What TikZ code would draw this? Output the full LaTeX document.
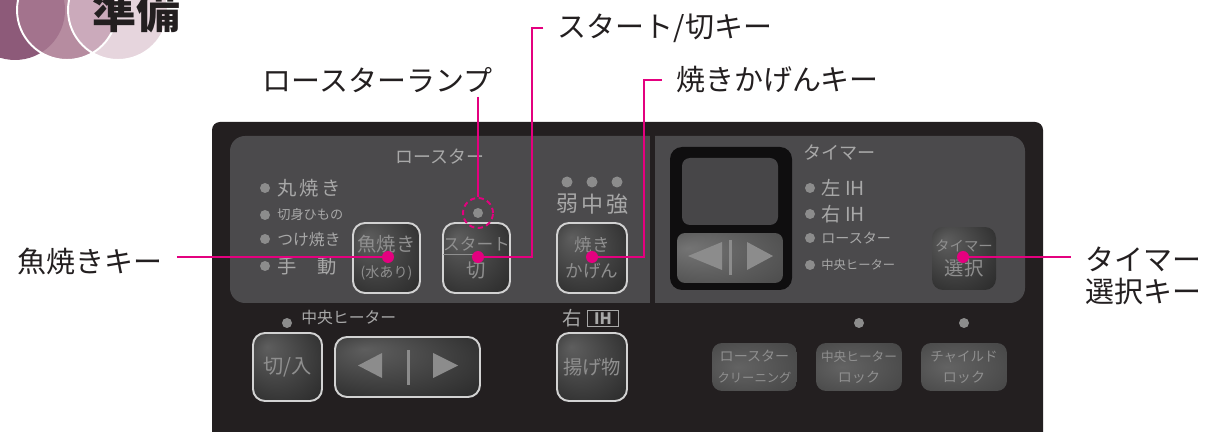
\documentclass[tikz,border=0pt]{standalone}
\usepackage{fontspec}
\setmainfont{Noto Sans CJK JP}
\usetikzlibrary{calc}
\definecolor{ink}{HTML}{231F20}
\definecolor{plum}{HTML}{8D5A79}
\definecolor{mauve}{HTML}{B68CA0}
\definecolor{blush}{HTML}{E6D5DD}
\definecolor{plummauve}{HTML}{A3738D}
\definecolor{mauveblush}{HTML}{CBAABB}
\definecolor{face}{HTML}{4B4A4C}
\definecolor{lcd}{HTML}{0F0E0F}
\definecolor{screen}{HTML}{474648}
\definecolor{panelgray}{HTML}{A8A8A8}
\definecolor{keytext}{HTML}{8F8F8F}
\definecolor{led}{HTML}{8C8C8C}
\definecolor{rim}{HTML}{D2D2D2}
\definecolor{keyhi}{HTML}{5E5E5E}
\definecolor{keylo}{HTML}{1C1C1C}
\definecolor{flathi}{HTML}{636363}
\definecolor{flatlo}{HTML}{3C3C3C}
\definecolor{padhi}{HTML}{747474}
\definecolor{padlo}{HTML}{3E3E3E}
\definecolor{hotpink}{HTML}{E4007F}
\pgfdeclareradialshading{keyshade}{\pgfpoint{-15bp}{15bp}}{color(0bp)=(keyhi); color(50bp)=(keylo)}
\pgfdeclareradialshading{flatshade}{\pgfpoint{-10bp}{0bp}}{color(0bp)=(flathi); color(50bp)=(flatlo)}
\pgfdeclareradialshading{padshade}{\pgfpoint{-20bp}{10bp}}{color(0bp)=(padhi); color(55bp)=(padlo)}
\newcommand{\fsz}[2]{\fontsize{#1}{#2}\selectfont}

\begin{document}
\begin{tikzpicture}[x=0.02cm,y=-0.02cm,
  knob/.style={draw=rim,line width=1.1pt,rounded corners=0.24cm,shading=keyshade,
    text=keytext,align=center,inner sep=0pt},
  flatknob/.style={rounded corners=0.2cm,shading=flatshade,text=keytext,
    align=center,inner sep=0pt},
  led/.style={circle,fill=led,inner sep=0pt,minimum size=0.2cm},
  hotdot/.style={circle,fill=hotpink,inner sep=0pt,minimum size=0.24cm},
  paneltext/.style={text=panelgray,inner sep=0pt},
  glyph/.style={fill=led},
  callout/.style={hotpink,line width=1.1pt},
  keyname/.style={text=ink,font=\fsz{16.5}{18},inner xsep=8pt,inner ysep=2pt}]
  \useasboundingbox (0,0) rectangle (1208,432);
  \clip (0,0) rectangle (1208,432);

  % heading
  \coordinate (left) at (15,10);
  \coordinate (mid) at (67,10);
  \coordinate (right) at (118,10);
  \fill[blush] (right) circle (1cm);
  \fill[plum] (left) circle (1cm);
  \fill[mauve] (mid) circle (1cm);
  \begin{scope}
    \clip (left) circle (1cm);
    \fill[plummauve] (mid) circle (1cm);
  \end{scope}
  \begin{scope}
    \clip (right) circle (1cm);
    \fill[mauveblush] (mid) circle (1cm);
  \end{scope}
  \draw[white,line width=1.1pt] (mid) circle (1cm) (right) circle (1cm);
  \node[text=ink,font=\fsz{25}{25}\bfseries] (title) at (136,12) {準備};

  % panel
  \fill[ink,rounded corners=0.16cm] (212,122) rectangle (1043,460);
  \fill[face,rounded corners=0.3cm] (230,136) rectangle (1025,303);
  \fill[ink] (650,134) rectangle (655,305);

  \node[paneltext,font=\fsz{10.2}{10.2}] (roaster) at (440,157) {ロースター};
  \foreach \i/\y/\s/\t in {1/188/11/{\makebox[34pt][s]{丸 焼 き}},
      2/215/7.5/{切身ひもの},3/239/9/{つけ焼き},
      4/266/11/{\makebox[34pt][s]{手 動}}}{
    \node[led] (modeled\i) at (265,\y) {};
    \node[paneltext,anchor=west,font=\fsz{\s}{\s}] (mode\i) at (277,\y) {\t};
  }
  \foreach \i/\x/\t in {1/567/弱,2/592/中,3/617/強}{
    \node[led,minimum size=0.22cm] (levelled\i) at (\x,182) {};
    \node[paneltext,font=\fsz{12.5}{12.5}] (level\i) at (\x,204) {\t};
  }
  \node[led] (lamp) at (478,213) {};

  \node[knob,minimum width=1.34cm,minimum height=1.4cm,font=\fsz{11}{15}]
    (fishbtn) at (386.5,258) {魚焼き\\{\fsz{8}{8}(水あり)}};
  \node[knob,minimum width=1.34cm,minimum height=1.4cm,font=\fsz{11}{15}]
    (startbtn) at (476.5,258) {{\fsz{9.5}{9.5}\underline{スタ}ート}\\切};
  \node[knob,minimum width=1.4cm,minimum height=1.4cm,font=\fsz{10}{15}]
    (yakibtn) at (592,258) {焼き\\かげん};

  % timer side
  \fill[lcd,rounded corners=0.24cm] (670,147) rectangle (792,290);
  \fill[screen,rounded corners=0.16cm] (682,158) rectangle (778,225);
  \node[rounded corners=0.16cm,shading=padshade,minimum width=2.12cm,
    minimum height=1cm] (timepad) at (730,258) {};
  \fill[glyph] (722,242) -- (722,270) -- (688,256) -- cycle;
  \fill[glyph] (728.5,240) rectangle (731.5,275);
  \fill[glyph] (747,242) -- (747,270) -- (773,256) -- cycle;

  \node[paneltext,anchor=west,font=\fsz{10.3}{10.3}] (timer) at (803,153) {タイマー};
  \foreach \i/\y/\s/\t in {1/188/11/{左 IH},2/214/11/{右 IH},
      3/238/8/{ロースター},4/265/7/{中央ヒーター}}{
    \node[led] (timerled\i) at (810,\y) {};
    \node[paneltext,anchor=west,font=\fsz{\s}{\s}] (timer\i) at (821,\y) {\t};
  }
  \node[rounded corners=0.22cm,shading=keyshade,text=keytext,align=center,
    inner sep=0pt,minimum width=1.28cm,minimum height=1.26cm,font=\fsz{8.2}{13.6}]
    (timerbtn) at (964,258.5) {タイマー\\{\fsz{11}{11}選択}};

  % lower row
  \node[led] (centreled) at (287,323) {};
  \node[paneltext,anchor=west,font=\fsz{9}{9}] (centrename) at (301,318) {中央ヒーター};
  \node[knob,minimum width=1.38cm,minimum height=1.36cm,font=\fsz{11.5}{11.5}]
    (switchbtn) at (287.5,367) {切/入};
  \node[knob,minimum width=2.9cm,minimum height=1.2cm] (centrepad) at (407.5,367) {};
  \fill[glyph] (382,353) -- (382,378) -- (358,365.5) -- cycle;
  \fill[glyph] (406.5,350) rectangle (409.5,385);
  \fill[glyph] (433,353) -- (433,378) -- (458,365.5) -- cycle;

  \node[paneltext,font=\fsz{11}{11}] (rightname) at (572,318) {右};
  \node[draw=panelgray,line width=1pt,text=panelgray,inner sep=0pt,
    minimum width=0.62cm,minimum height=0.32cm,font=\fsz{9}{9}\bfseries]
    (ihbox) at (603,318.5) {IH};
  \node[knob,minimum width=1.4cm,minimum height=1.36cm,font=\fsz{11}{11}]
    (frybtn) at (592,367) {揚げ物};

  \node[flatknob,minimum width=1.7cm,minimum height=0.96cm,font=\fsz{8}{12}]
    (cleanbtn) at (754.5,367) {ロースター\\{\fsz{7}{7}クリーニング}};
  \node[led] (centrelockled) at (859,323) {};
  \node[flatknob,minimum width=1.72cm,minimum height=0.96cm,font=\fsz{7.2}{12}]
    (centrelock) at (859,367) {中央ヒーター\\{\fsz{8}{8}ロック}};
  \node[led] (childled) at (964,323) {};
  \node[flatknob,minimum width=1.72cm,minimum height=0.96cm,font=\fsz{7.7}{12}]
    (childlock) at (964,367) {チャイルド\\{\fsz{8}{8}ロック}};

  % callouts
  \node[hotdot] (fishdot) at (388,257) {};
  \node[hotdot] (startdot) at (478,257) {};
  \node[hotdot] (yakidot) at (592,257) {};
  \node[hotdot] (timerdot) at (963,257) {};
  \node[circle,draw=hotpink,densely dashed,line width=1.1pt,inner sep=0pt,
    minimum size=0.6cm] (lampring) at (lamp) {};

  \node[keyname] (fishkey) at (90,261) {魚焼きキー};
  \node[keyname] (lampkey) at (377.5,80) {ロースターランプ};
  \node[keyname] (startkey) at (665,28) {スタート/切キー};
  \node[keyname] (yakikey) at (777.5,80) {焼きかげんキー};
  \node[keyname,anchor=west,align=left] (timerkey) at (1071,276)
    {タイマー\\選択キー};

  \coordinate (startbend) at (532,257);
  \coordinate (yakibend) at (644,257);
  \draw[callout] (fishkey.east |- fishdot) -- (fishdot);
  \draw[callout] (lampring.north |- lampkey.south) -- (lampring.north);
  \draw[callout] (startkey.west) -| (startbend) -- (startdot);
  \draw[callout] (yakikey.west) -| (yakibend) -- (yakidot);
  \draw[callout] (timerdot) -- (timerdot -| timerkey.west);
\end{tikzpicture}
\end{document}
